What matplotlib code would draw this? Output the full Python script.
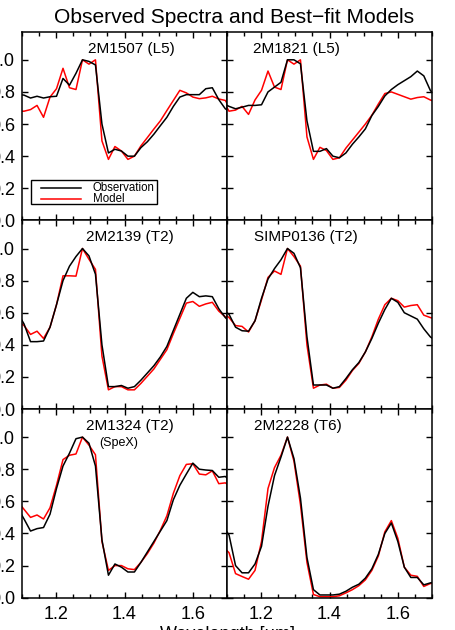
import matplotlib
matplotlib.use("Agg")
import matplotlib.pyplot as plt
from matplotlib.ticker import MultipleLocator, FormatStrFormatter

plt.rcParams['font.family'] = ['Liberation Sans', 'DejaVu Sans']

# wavelength grid (micron), shared by all spectra
wave = [1.087, 1.106, 1.125, 1.144, 1.163, 1.182, 1.201, 1.220, 1.239, 1.258,
        1.277, 1.296, 1.315, 1.334, 1.353, 1.372, 1.391, 1.410, 1.429, 1.448,
        1.467, 1.486, 1.505, 1.524, 1.543, 1.562, 1.581, 1.600, 1.619, 1.638,
        1.657, 1.676, 1.695, 1.714]

names = ['2M1507 (L5)', '2M1821 (L5)', '2M2139 (T2)', 'SIMP0136 (T2)',
         '2M1324 (T2)', '2M2228 (T6)']

obs_1507 = [0.785, 0.78, 0.762, 0.773, 0.762, 0.77, 0.773, 0.884, 0.842, 0.916,
            1.0, 0.99, 0.968, 0.60, 0.42, 0.443, 0.432, 0.40, 0.40, 0.453,
            0.49, 0.537, 0.59, 0.642, 0.71, 0.768, 0.783, 0.783, 0.783, 0.82,
            0.826, 0.752, 0.695, 0.67]
mod_1507 = [0.68, 0.68, 0.69, 0.716, 0.642, 0.768, 0.82, 0.947, 0.826, 0.815,
            1.0, 0.973, 1.0, 0.495, 0.38, 0.46, 0.432, 0.38, 0.40, 0.464,
            0.516, 0.569, 0.62, 0.684, 0.747, 0.81, 0.794, 0.768, 0.758, 0.763,
            0.773, 0.756, 0.747, 0.68]

obs_1821 = [0.73, 0.71, 0.695, 0.705, 0.716, 0.716, 0.72, 0.80, 0.83, 0.86,
            1.0, 1.0, 0.975, 0.62, 0.43, 0.43, 0.447, 0.40, 0.39, 0.42,
            0.474, 0.52, 0.57, 0.653, 0.71, 0.775, 0.815, 0.845, 0.87, 0.895,
            0.93, 0.90, 0.81, 0.76]
mod_1821 = [0.75, 0.68, 0.687, 0.71, 0.66, 0.75, 0.81, 0.93, 0.83, 0.815,
            1.0, 0.973, 1.0, 0.52, 0.38, 0.455, 0.435, 0.38, 0.39, 0.45,
            0.50, 0.55, 0.60, 0.655, 0.725, 0.79, 0.80, 0.785, 0.77, 0.755,
            0.765, 0.77, 0.75, 0.735]

obs_2139 = [0.60, 0.53, 0.42, 0.42, 0.424, 0.51, 0.65, 0.80, 0.89, 0.95,
            1.0, 0.954, 0.84, 0.40, 0.14, 0.14, 0.147, 0.13, 0.14, 0.18,
            0.225, 0.27, 0.325, 0.39, 0.49, 0.59, 0.69, 0.727, 0.70, 0.705,
            0.70, 0.625, 0.57, 0.53]
mod_2139 = [0.55, 0.52, 0.465, 0.485, 0.44, 0.51, 0.65, 0.83, 0.83, 0.828,
            1.0, 0.933, 0.87, 0.33, 0.12, 0.14, 0.14, 0.12, 0.12, 0.16,
            0.205, 0.25, 0.31, 0.37, 0.47, 0.565, 0.66, 0.67, 0.64, 0.655,
            0.665, 0.61, 0.575, 0.55]

obs_0136 = [0.62, 0.59, 0.51, 0.488, 0.485, 0.55, 0.69, 0.81, 0.875, 0.93,
            1.0, 0.97, 0.88, 0.45, 0.15, 0.15, 0.15, 0.13, 0.14, 0.19,
            0.245, 0.29, 0.356, 0.44, 0.535, 0.62, 0.69, 0.665, 0.60, 0.58,
            0.56, 0.50, 0.45, 0.42]
mod_0136 = [0.60, 0.57, 0.52, 0.515, 0.48, 0.55, 0.68, 0.82, 0.86, 0.839,
            1.0, 0.95, 0.89, 0.40, 0.13, 0.15, 0.155, 0.13, 0.135, 0.18,
            0.24, 0.285, 0.356, 0.45, 0.56, 0.65, 0.69, 0.675, 0.635, 0.645,
            0.65, 0.585, 0.57, 0.56]

obs_1324 = [0.56, 0.49, 0.415, 0.43, 0.437, 0.52, 0.68, 0.82, 0.90, 0.99,
            1.0, 0.962, 0.82, 0.36, 0.14, 0.21, 0.19, 0.16, 0.16, 0.22,
            0.285, 0.35, 0.415, 0.48, 0.61, 0.70, 0.77, 0.838, 0.80, 0.795,
            0.792, 0.75, 0.755, 0.72]
mod_1324 = [0.60, 0.55, 0.50, 0.515, 0.49, 0.56, 0.70, 0.86, 0.887, 0.895,
            1.0, 0.95, 0.89, 0.35, 0.17, 0.20, 0.20, 0.18, 0.175, 0.22,
            0.275, 0.34, 0.42, 0.51, 0.65, 0.76, 0.83, 0.834, 0.77, 0.765,
            0.79, 0.71, 0.715, 0.69]

obs_2228 = [0.45, 0.39, 0.20, 0.155, 0.155, 0.21, 0.32, 0.57, 0.76, 0.876,
            1.0, 0.866, 0.62, 0.25, 0.05, 0.017, 0.017, 0.017, 0.022, 0.04,
            0.065, 0.084, 0.122, 0.18, 0.27, 0.40, 0.465, 0.35, 0.19, 0.126,
            0.126, 0.08, 0.092, 0.10]
mod_2228 = [0.32, 0.28, 0.15, 0.132, 0.115, 0.17, 0.35, 0.68, 0.81, 0.887,
            1.0, 0.85, 0.58, 0.22, 0.02, 0.006, 0.006, 0.006, 0.012, 0.03,
            0.05, 0.075, 0.111, 0.17, 0.26, 0.41, 0.48, 0.37, 0.19, 0.14,
            0.133, 0.07, 0.088, 0.095]

observed = [obs_1507, obs_1821, obs_2139, obs_0136, obs_1324, obs_2228]
models = [mod_1507, mod_1821, mod_2139, mod_0136, mod_1324, mod_2228]
label_x = [0.535, 0.337, 0.527, 0.385, 0.527, 0.344]

W, H = 455, 630
fig = plt.figure(figsize=(W / 100, H / 100), dpi=100)

col_x = [22, 227]
row_top = [31.7, 220.4, 409.0]
ax_w, ax_h = 205, 188.7

for i in range(6):
    row, col = divmod(i, 2)
    ax = fig.add_axes([col_x[col] / W, (H - row_top[row] - ax_h) / H, ax_w / W, ax_h / H])
    ax.plot(wave, models[i], color='#ff0000', lw=1.1)
    ax.plot(wave, observed[i], color='black', lw=1.1)
    ax.set_xlim(1.1, 1.7)
    ax.set_ylim(0, 1.175)
    ax.xaxis.set_major_locator(MultipleLocator(0.2))
    ax.xaxis.set_minor_locator(MultipleLocator(0.05))
    ax.yaxis.set_major_locator(MultipleLocator(0.2))
    ax.yaxis.set_major_formatter(FormatStrFormatter('%.1f'))
    ax.tick_params(which='both', direction='in', top=True, right=True,
                   width=1.0, labelsize=13)
    ax.tick_params(which='major', length=4)
    ax.tick_params(which='minor', length=3)
    ax.tick_params(axis='y', pad=5)
    ax.tick_params(axis='x', pad=6)
    for s in ax.spines.values():
        s.set_linewidth(1.1)
    if col == 1:
        ax.set_yticklabels([])
    if row < 2:
        ax.set_xticklabels([])
    ax.text(label_x[i], 0.91, names[i], transform=ax.transAxes,
            ha='center', va='center', fontsize=11)
    if i == 4:
        ax.text(0.473, 0.818, '(SpeX)', transform=ax.transAxes,
                ha='center', va='center', fontsize=9)
    if i == 0:
        # legend box drawn like the original
        ax.add_patch(plt.Rectangle((0.042, 0.087), 0.615, 0.127, transform=ax.transAxes,
                                   fill=False, edgecolor='black', lw=1.0))
        ax.plot([0.095, 0.29], [0.171, 0.171], color='black', lw=1.1, transform=ax.transAxes)
        ax.plot([0.095, 0.29], [0.113, 0.113], color='#ff0000', lw=1.1, transform=ax.transAxes)
        ax.text(0.345, 0.171, 'Observation', transform=ax.transAxes,
                va='center', fontsize=8.3)
        ax.text(0.345, 0.113, 'Model', transform=ax.transAxes,
                va='center', fontsize=8.3)

fig.text(234 / W, 1 - 17.5 / H, 'Observed Spectra and Best\u2212fit Models',
         ha='center', va='center', fontsize=15.1)
fig.text(0.5, 1 - 626 / H, 'Wavelength [\u03bcm]', ha='center', va='top', fontsize=13)

fig.savefig('out.png', dpi=100)
